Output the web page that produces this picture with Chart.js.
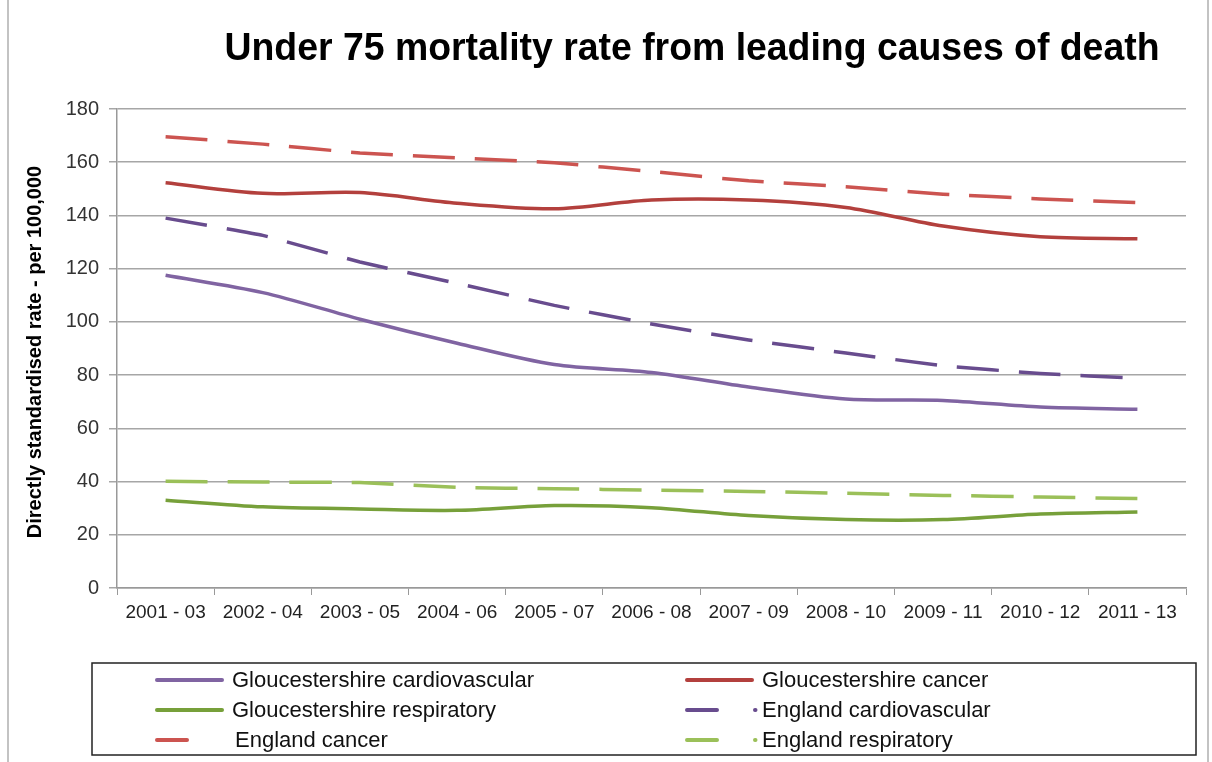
<!DOCTYPE html>
<html>
<head>
<meta charset="utf-8">
<script src="https://cdn.jsdelivr.net/npm/chart.js@4.4.1/dist/chart.umd.min.js"></script>
<style>
  html, body { margin: 0; padding: 0; background: #fff; }
  #wrap { width: 1212px; height: 762px; position: relative; }
</style>
</head>
<body>
<div id="wrap"><canvas id="mortChart" width="1212" height="762"></canvas></div>
<script>
// data
const periods = ['2001 - 03', '2002 - 04', '2003 - 05', '2004 - 06', '2005 - 07', '2006 - 08',
                 '2007 - 09', '2008 - 10', '2009 - 11', '2010 - 12', '2011 - 13'];
const glosCardio = [117.5, 111, 101, 92, 84, 81, 75.5, 71, 70.5, 68, 67.2];
const glosCancer = [152.3, 148.3, 148.6, 144.6, 142.5, 145.8, 145.8, 143, 136, 132, 131.2];
const glosResp   = [33, 30.5, 29.7, 29.2, 31, 30.2, 27.2, 25.7, 25.7, 27.8, 28.6];
const engCardio  = [139, 132.5, 122.5, 114.5, 106.2, 99.2, 93.2, 88.3, 83.5, 80.6, 78.8];
const engCancer  = [169.6, 166.8, 163.5, 161.6, 159.8, 156.5, 153, 150.8, 148, 146.2, 144.8];
const engResp    = [40.1, 39.8, 39.6, 37.8, 37.3, 36.8, 36.3, 35.6, 34.8, 34.2, 33.6];
const yTicks = [0, 20, 40, 60, 80, 100, 120, 140, 160, 180];

const DASH = [42, 20];
const sans = '"Liberation Sans", Arial, sans-serif';

function line(label, data, color, dashed) {
    return {
        label: label,
        data: data,
        borderColor: color,
        backgroundColor: color,
        borderWidth: 3.5,
        borderDash: dashed ? DASH : [],
        pointRadius: 0,
        tension: dashed ? 0.1 : 0.3,
        fill: false
    };
}

// legend order, two columns as in the original
const legendItems = [
    { ds: 0, col: 0, row: 0 }, { ds: 1, col: 1, row: 0 },
    { ds: 2, col: 0, row: 1 }, { ds: 3, col: 1, row: 1 },
    { ds: 4, col: 0, row: 2 }, { ds: 5, col: 1, row: 2 }
];

const decorPlugin = {
    id: 'decor',
    afterDraw(chart) {
        const c = chart.ctx;
        c.save();
        // frame sides
        c.strokeStyle = '#b0b0b0';
        c.lineWidth = 1.5;
        c.beginPath();
        c.moveTo(8, 0); c.lineTo(8, 762);
        c.moveTo(1208, 0); c.lineTo(1208, 762);
        c.stroke();

        // title
        c.fillStyle = '#000';
        c.font = 'bold 38px ' + sans;
        c.textAlign = 'center';
        c.textBaseline = 'middle';
        c.fillText('Under 75 mortality rate from leading causes of death', 692, 50, 935);

        // y axis title
        c.save();
        c.translate(35, 352);
        c.rotate(-Math.PI / 2);
        c.font = 'bold 20px ' + sans;
        c.fillText('Directly standardised rate - per 100,000', 0, 0, 385);
        c.restore();

        // legend box
        c.strokeStyle = '#222';
        c.lineWidth = 1.5;
        c.strokeRect(92, 663, 1104, 92);
        c.font = '22px ' + sans;
        c.textAlign = 'left';
        c.fillStyle = '#111';
        legendItems.forEach(it => {
            const ds = chart.data.datasets[it.ds];
            const x0 = it.col === 0 ? 157 : 687;
            const y = 680 + it.row * 30;
            c.strokeStyle = ds.borderColor;
            c.lineWidth = 4;
            c.lineCap = 'round';
            c.beginPath();
            if (ds.borderDash.length) {
                c.moveTo(x0, y); c.lineTo(x0 + 30, y);
                if (it.col === 1) { c.moveTo(x0 + 68, y); c.lineTo(x0 + 68.5, y); }
            } else {
                c.moveTo(x0, y); c.lineTo(x0 + 65, y);
            }
            c.stroke();
            c.fillText(ds.label, x0 + (it.col === 0 && ds.borderDash.length ? 78 : 75), y + 1);
        });
        c.restore();
    }
};

new Chart(document.getElementById('mortChart'), {
    type: 'line',
    data: {
        labels: periods,
        datasets: [
            line('Gloucestershire cardiovascular', glosCardio, '#8064a2', false),
            line('Gloucestershire cancer', glosCancer, '#b3403d', false),
            line('Gloucestershire respiratory', glosResp, '#77a03a', false),
            line('England cardiovascular', engCardio, '#684c8e', true),
            line('England cancer', engCancer, '#cc5450', true),
            line('England respiratory', engResp, '#9bc059', true)
        ]
    },
    options: {
        responsive: false,
        animation: false,
        layout: { padding: { top: 109, left: 0, right: 26, bottom: 134 } },
        plugins: {
            legend: { display: false },
            title: { display: false },
            tooltip: { enabled: false }
        },
        scales: {
            x: {
                offset: true,
                grid: { offset: true, drawOnChartArea: false, drawTicks: true, tickLength: 7, color: '#999' },
                border: { color: '#999', width: 1.5 },
                ticks: {
                    color: '#222',
                    font: { family: sans, size: 19 },
                    maxRotation: 0,
                    autoSkip: false,
                    padding: 6
                },
                afterFit(scale) { scale.height = 40; }
            },
            y: {
                min: 0,
                max: 180,
                afterBuildTicks(scale) { scale.ticks = yTicks.map(v => ({ value: v })); },
                grid: { color: '#a6a6a6', lineWidth: 1.5, tickLength: 8 },
                border: { color: '#999', width: 1.5 },
                ticks: {
                    color: '#333',
                    font: { family: sans, size: 20 },
                    padding: 10
                },
                afterFit(scale) { scale.width = 117; }
            }
        }
    },
    plugins: [decorPlugin]
});
</script>
</body>
</html>
